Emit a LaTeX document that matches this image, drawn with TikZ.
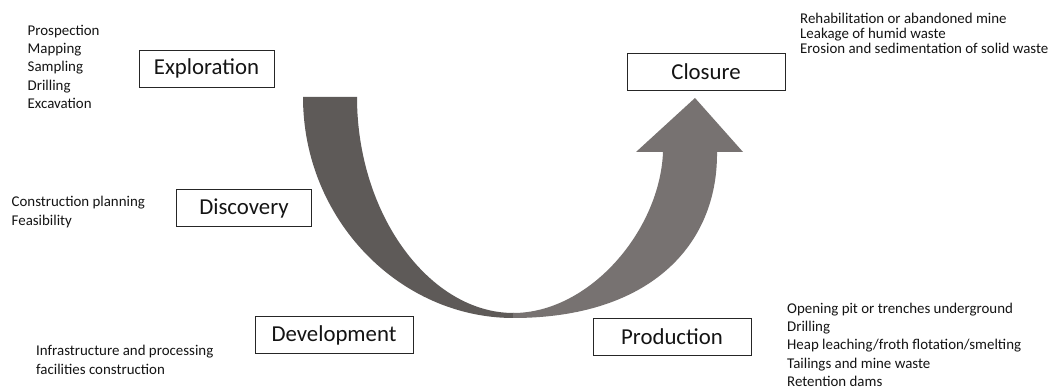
\documentclass[tikz,border=0pt]{standalone}
\usepackage{fontspec}
\setmainfont{Carlito}
\definecolor{darkband}{RGB}{94,90,88}
\definecolor{lightband}{RGB}{119,114,113}
\definecolor{ink}{RGB}{20,20,20}
\begin{document}
\begin{tikzpicture}[x=1pt,y=-1pt,
  stagebox/.style={draw=black!85, line width=0.8pt, inner sep=0pt, text=ink,
    font=\fontsize{22.8}{26}\selectfont, minimum height=37pt},
  stageS/.style={stagebox, minimum width=135pt},
  stageL/.style={stagebox, minimum width=158pt},
  notes/.style={anchor=north west, inner sep=0pt, align=left, text=ink,
    font=\fontsize{14.9}{18.2}\selectfont},
  notestight/.style={anchor=north west, inner sep=0pt, align=left, text=ink,
    font=\fontsize{14.9}{14.4}\selectfont}]
\useasboundingbox (0,0) rectangle (1053,387);
\fill[white] (0,0) rectangle (1053,387);

% U-shaped arrow
\fill[darkband] (303,97) .. controls (303,220) and (400,318) .. (513.5,318)
  -- (513.5,313) .. controls (430,313) and (357,215) .. (357,97) -- cycle;
\fill[lightband] (513,318) .. controls (650,318) and (718,245) .. (717,152)
  -- (743,152) -- (695,98) -- (636,152) -- (663,152)
  .. controls (660,230) and (590,313) .. (513,313) -- cycle;

% stages
\node[stageS] (exploration) at (206.5,68.5) {Exploration};
\node[stageS] (discovery) at (244,208) {Discovery};
\node[stageL] (closure) at (706,72) {Closure};
\node[stageL] (development) at (334,335) {Development};
\node[stageL] (production) at (672,336.5) {Production};

% notes
\node[notes] (explnotes) at (27.5,22.5) {\strut Prospection\\Mapping\\Sampling\\Drilling\\Excavation};
\node[notes] (discnotes) at (11.5,194) {\strut Construction planning\\Feasibility};
\node[notes] (devnotes) at (36,343) {\strut Infrastructure and processing\\facilities construction};
\node[notes] (prodnotes) at (787,300.5) {\strut Opening pit or trenches underground\\Drilling\\Heap leaching/froth flotation/smelting\\Tailings and mine waste\\Retention dams};
\node[notestight] (closnotes) at (800,12.5) {\strut Rehabilitation or abandoned mine\\Leakage of humid waste\\Erosion and sedimentation of solid waste};
\end{tikzpicture}
\end{document}
